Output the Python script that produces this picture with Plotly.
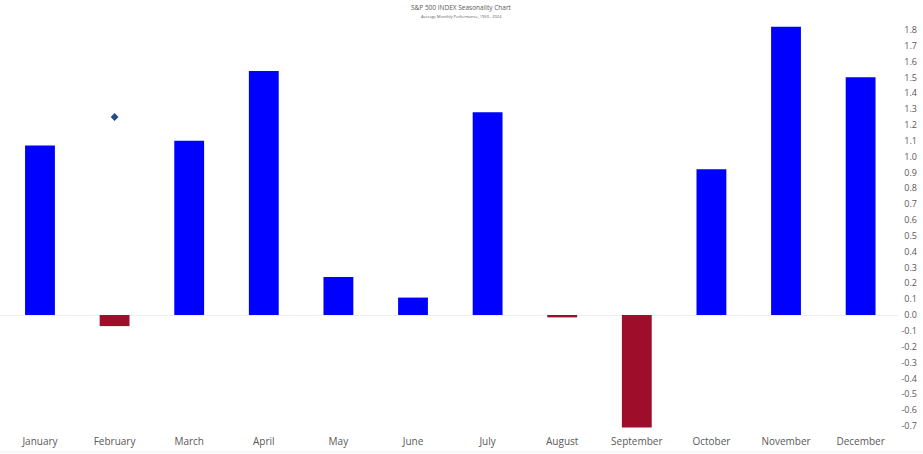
import plotly.graph_objects as go

months = ["January", "February", "March", "April", "May", "June",
          "July", "August", "September", "October", "November", "December"]
avg_returns = [1.07, -0.07, 1.10, 1.54, 0.24, 0.11, 1.28, -0.015, -0.71, 0.92, 1.82, 1.50]
marker_month = ["February"]
marker_value = [1.25]
tick_vals = [round(-0.7 + 0.1 * i, 1) for i in range(26)]
tick_text = [f"{v:.1f}" for v in tick_vals]

pos_color = "#0000FF"
neg_color = "#9E0E2B"
colors = [pos_color if v >= 0 else neg_color for v in avg_returns]

W, H = 923, 454
plot_top, plot_bottom = 14, 434
plot_right = 898
ymin, ymax = -0.751, 1.90
xmin, xmax = -0.536, 11.501

fig = go.Figure()
fig.add_trace(go.Bar(
    x=months, y=avg_returns, marker=dict(color=colors, line=dict(width=0)),
    width=0.4, showlegend=False, hoverinfo="x+y"))
fig.add_trace(go.Scatter(
    x=marker_month, y=marker_value, mode="markers",
    marker=dict(symbol="diamond", size=6, color="#1F4E8C"),
    showlegend=False))

plot_h = plot_bottom - plot_top
def py(pix):
    return (plot_bottom - pix) / plot_h

fig.update_layout(
    width=W, height=H,
    margin=dict(l=0, r=0, t=plot_top, b=H - plot_bottom),
    paper_bgcolor="white", plot_bgcolor="white",
    font=dict(family="Open Sans, sans-serif", color="#595959", size=10),
    annotations=[
        dict(text="S&P 500 INDEX Seasonality Chart", x=461 / W, y=py(7), xref="paper",
             yref="paper", yanchor="middle", showarrow=False,
             font=dict(size=6.5, color="#595959")),
        dict(text="Average Monthly Performance, 1950 - 2024", x=461 / W, y=py(17),
             xref="paper", yref="paper", yanchor="middle", showarrow=False,
             font=dict(size=4, color="#595959")),
    ],
)

fig.update_xaxes(domain=[0, plot_right / W], range=[xmin, xmax],
                 showgrid=False, showline=False, ticks="", zeroline=False,
                 tickfont=dict(size=10, color="#595959"))
fig.update_yaxes(anchor="free", position=917 / W, side="left",
                 range=[ymin, ymax], tickvals=tick_vals, ticktext=tick_text,
                 showgrid=False, zeroline=True, zerolinecolor="#EEEEEE", zerolinewidth=1,
                 showline=False, ticks="", tickfont=dict(size=9, color="#595959"))
fig.add_shape(type="line", xref="paper", yref="paper", x0=0, x1=1.03,
              y0=py(452), y1=py(452), line=dict(color="#EEEEEE", width=1))

fig.write_html("out.html", config={"displayModeBar": False},
               post_script="document.body.style.margin='0';document.body.style.overflow='hidden';")
